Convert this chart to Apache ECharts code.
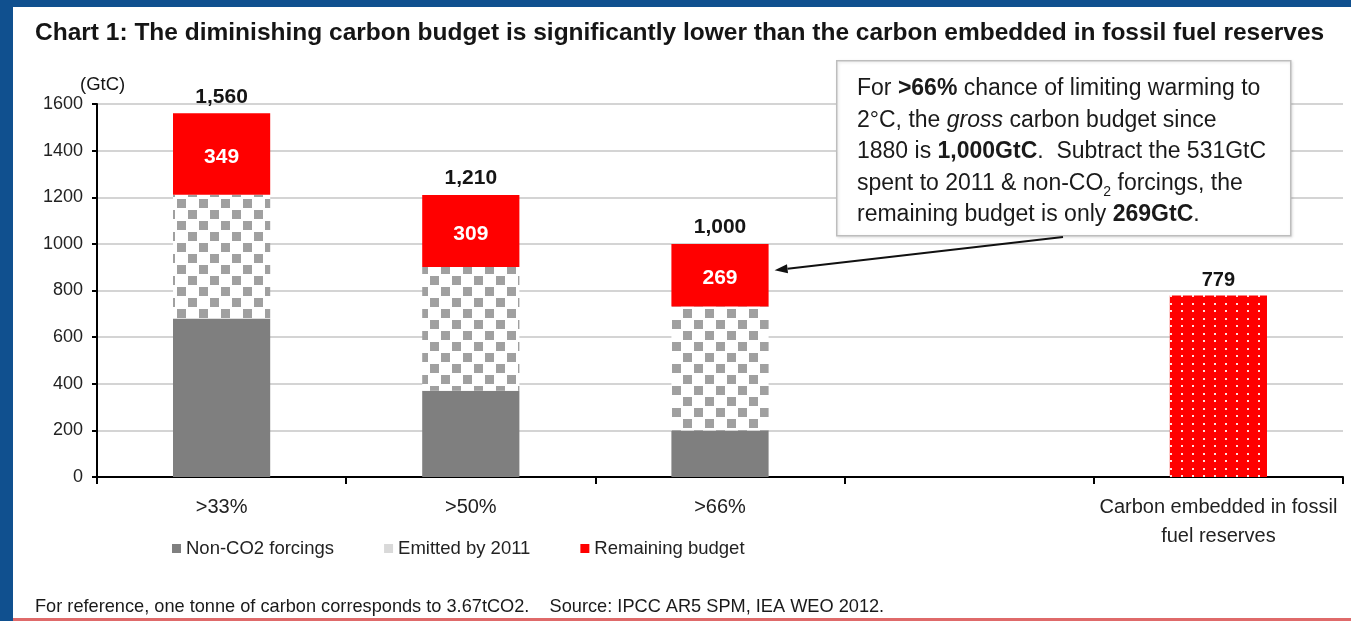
<!DOCTYPE html>
<html>
<head>
<meta charset="utf-8">
<script src="https://cdn.jsdelivr.net/npm/echarts@6/dist/echarts.min.js"></script>
<style>
  html, body { margin: 0; padding: 0; background: #ffffff; }
  #chart { width: 1351px; height: 621px; }
</style>
</head>
<body>
<div id="chart"></div>
<script>
// Carbon budget (GtC) by probability of limiting warming to 2°C
const categories = ['>33%', '>50%', '>66%', '', 'Carbon embedded in fossil\nfuel reserves'];
const nonCO2 = [680, 370, 200, '-', '-'];
const emitted = [531, 531, 531, '-', '-'];
const remaining = [349, 309, 269, '-', '-'];
const reserves = ['-', '-', '-', '-', 779];
const yMin = 0, yMax = 1600, yStep = 200;

const FONT = '"Liberation Sans", Arial, Helvetica, sans-serif';
const BLUE = '#10508f';
const GREY = '#7f7f7f';
const RED = '#ff0000';

const num = v => (typeof v === 'number' ? v : 0);
const totals = categories.map((_, i) => num(nonCO2[i]) + num(emitted[i]) + num(remaining[i]));
const fmt = v => v.toLocaleString('en-US');

// Checkerboard fill for the emitted-by-2011 segment
function checkerPattern() {
  const c = document.createElement('canvas');
  c.width = 22; c.height = 22;
  const g = c.getContext('2d');
  g.fillStyle = '#ffffff'; g.fillRect(0, 0, 22, 22);
  g.fillStyle = '#a0a0a0';
  g.fillRect(1, 1, 9, 9);
  g.fillRect(12, 12, 9, 9);
  return c;
}
// Red fill with small white dots for the reserves bar
function dotPattern() {
  const c = document.createElement('canvas');
  c.width = 11; c.height = 15;
  const g = c.getContext('2d');
  g.fillStyle = RED; g.fillRect(0, 0, 11, 15);
  g.fillStyle = 'rgba(255,235,235,0.95)';
  g.fillRect(4, 3, 2, 2);
  g.fillRect(4, 10, 2, 2);
  return c;
}

const chart = echarts.init(document.getElementById('chart'), null, { renderer: 'canvas' });

const barWidth = '39%';
const noteText =
  'For {b|>66%} chance of limiting warming to\n' +
  '2°C, the {i|gross} carbon budget since\n' +
  '1880 is {b|' + fmt(totals[2]) + 'GtC}.  Subtract the ' + emitted[2] + 'GtC\n' +
  'spent to 2011 & non-CO{s|2} forcings, the\n' +
  'remaining budget is only {b|' + remaining[2] + 'GtC}.';

const option = {
  animation: false,
  backgroundColor: '#ffffff',
  title: {
    text: 'Chart 1: The diminishing carbon budget is significantly lower than the carbon embedded in fossil fuel reserves',
    left: 35, top: 21, padding: 0,
    textStyle: { fontFamily: FONT, fontSize: 24.5, fontWeight: 'bold', color: '#151515' }
  },
  grid: { left: 97, right: 8, top: 104, bottom: 144, containLabel: false },
  legend: {
    data: [
      { name: 'Non-CO2 forcings' },
      { name: 'Emitted by 2011', itemStyle: { color: '#d9d9d9' } },
      { name: 'Remaining budget' }
    ],
    left: 167, top: 534,
    itemWidth: 9, itemHeight: 9, itemGap: 50,
    icon: 'rect',
    textStyle: { fontFamily: FONT, fontSize: 18.5, color: '#222' }
  },
  xAxis: {
    type: 'category',
    data: categories,
    axisLine: { lineStyle: { color: '#000', width: 2 } },
    axisTick: { show: true, alignWithLabel: false, length: 7, lineStyle: { color: '#000', width: 2 } },
    axisLabel: { fontFamily: FONT, fontSize: 20, color: '#222', margin: 16, lineHeight: 29, interval: 0 },
    splitLine: { show: false }
  },
  yAxis: {
    type: 'value',
    min: yMin, max: yMax, interval: yStep,
    axisLine: { show: true, lineStyle: { color: '#000', width: 2 } },
    axisTick: { show: true, length: 5, lineStyle: { color: '#000', width: 2 } },
    axisLabel: { fontFamily: FONT, fontSize: 18, color: '#222', margin: 14, formatter: v => String(v) },
    splitLine: { lineStyle: { color: '#d4d4d4', width: 2 } }
  },
  series: [
    {
      name: 'Non-CO2 forcings', type: 'bar', stack: 'budget', barWidth: barWidth,
      data: nonCO2, itemStyle: { color: GREY }
    },
    {
      name: 'Emitted by 2011', type: 'bar', stack: 'budget', barWidth: barWidth,
      data: emitted, itemStyle: { color: { image: checkerPattern(), repeat: 'repeat' } }
    },
    {
      name: 'Remaining budget', type: 'bar', stack: 'budget', barWidth: barWidth,
      data: remaining, itemStyle: { color: RED },
      label: {
        show: true, position: 'inside', offset: [0, 3],
        fontFamily: FONT, fontSize: 21, fontWeight: 'bold', color: '#ffffff'
      }
    },
    {
      name: 'Reserves', type: 'bar', stack: 'budget', barWidth: barWidth,
      data: reserves, itemStyle: { color: { image: dotPattern(), repeat: 'repeat' } },
      label: {
        show: true, position: 'top', distance: 5,
        fontFamily: FONT, fontSize: 20, fontWeight: 'bold', color: '#151515'
      }
    },
    {
      // zero-height cap carrying the stack totals
      name: 'Total', type: 'bar', stack: 'budget', barWidth: barWidth,
      data: totals.map((t, i) => (i < 3 ? 0 : '-')),
      itemStyle: { color: 'rgba(0,0,0,0)' },
      label: {
        show: true, position: 'top', distance: 6,
        fontFamily: FONT, fontSize: 21, fontWeight: 'bold', color: '#151515',
        formatter: p => fmt(totals[p.dataIndex])
      }
    }
  ],
  graphic: [
    // frame
    { type: 'rect', left: 0, top: 0, shape: { width: 13, height: 621 }, style: { fill: BLUE }, silent: true },
    { type: 'rect', left: 0, top: 0, shape: { width: 1351, height: 7 }, style: { fill: BLUE }, silent: true },
    { type: 'rect', left: 13, top: 618, shape: { width: 1338, height: 3 }, style: { fill: '#df6a6a' }, silent: true },
    // axis unit
    {
      type: 'text', left: 80, top: 75,
      style: { text: '(GtC)', font: '18.5px ' + FONT, fill: '#151515' }
    },
    // footer
    {
      type: 'text', left: 35, top: 598,
      style: {
        text: 'For reference, one tonne of carbon corresponds to 3.67tCO2.    Source: IPCC AR5 SPM, IEA WEO 2012.',
        font: '18.2px ' + FONT, fill: '#1a1a1a'
      }
    },
    // note box
    {
      type: 'rect', left: 836, top: 60, z: 10,
      shape: { width: 454, height: 175 },
      style: { fill: '#ffffff', stroke: '#bdbdbd', lineWidth: 1.5, shadowBlur: 3, shadowColor: 'rgba(0,0,0,0.12)', shadowOffsetX: 1, shadowOffsetY: 1 }
    },
    {
      type: 'text', left: 857, top: 73, z: 11,
      style: {
        text: noteText,
        font: '23px ' + FONT, fill: '#1a1a1a', lineHeight: 31.5,
        rich: {
          b: { fontFamily: FONT, fontSize: 23, fontWeight: 'bold', fill: '#1a1a1a', lineHeight: 31.5 },
          i: { fontFamily: FONT, fontSize: 23, fontStyle: 'italic', fill: '#1a1a1a', lineHeight: 31.5 },
          s: { fontFamily: FONT, fontSize: 14, fill: '#1a1a1a', lineHeight: 22, verticalAlign: 'bottom' }
        }
      }
    }
  ]
};

chart.setOption(option);

// Pointer from the note box to the >66% remaining-budget segment
(function drawPointer() {
  const yMid = emitted[2] + nonCO2[2] + remaining[2] * 0.58;
  const center = chart.convertToPixel({ xAxisIndex: 0, yAxisIndex: 0 }, [categories[2], yMid]);
  const bandW = chart.getModel().getComponent('xAxis', 0).axis.getBandWidth();
  const tip = [center[0] + bandW * 0.39 / 2 + 6, center[1]];
  const tail = [1063, 237];
  const ang = Math.atan2(tail[1] - tip[1], tail[0] - tip[0]);
  const L = 13, W = 4.5;
  const bx = tip[0] + Math.cos(ang) * L, by = tip[1] + Math.sin(ang) * L;
  const px = -Math.sin(ang) * W, py = Math.cos(ang) * W;
  chart.setOption({
    graphic: option.graphic.concat([
      { type: 'line', z: 12, shape: { x1: tail[0], y1: tail[1], x2: bx, y2: by }, style: { stroke: '#111', lineWidth: 2 } },
      { type: 'polygon', z: 12, shape: { points: [tip, [bx + px, by + py], [bx - px, by - py]] }, style: { fill: '#111' } }
    ])
  }, { replaceMerge: ['graphic'] });
})();
</script>
</body>
</html>
